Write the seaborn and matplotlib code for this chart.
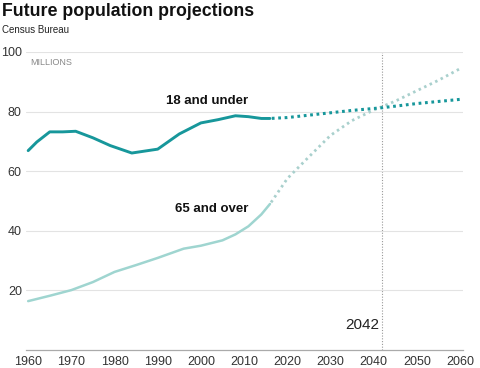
import matplotlib
matplotlib.use("Agg")
import matplotlib.pyplot as plt
import seaborn as sns
import pandas as pd

# ---- data ----
young_years = [1960, 1962, 1965, 1968, 1971, 1975, 1979, 1984, 1990, 1995, 2000, 2004, 2008, 2011, 2014, 2016]
young_vals = [66.9, 69.8, 73.2, 73.2, 73.4, 71.2, 68.6, 66.1, 67.4, 72.5, 76.2, 77.3, 78.6, 78.3, 77.7, 77.7]
young_proj_years = [2016, 2020, 2025, 2030, 2035, 2042, 2050, 2060]
young_proj_vals = [77.7, 78.0, 78.8, 79.6, 80.4, 81.3, 82.7, 84.1]

old_years = [1960, 1965, 1970, 1975, 1980, 1985, 1990, 1996, 2000, 2005, 2008, 2011, 2014, 2016]
old_vals = [16.4, 18.2, 20.1, 22.8, 26.2, 28.5, 30.9, 34.0, 35.0, 36.8, 38.8, 41.5, 45.5, 49.0]
old_proj_years = [2016, 2020, 2025, 2030, 2035, 2040, 2045, 2050, 2055, 2060]
old_proj_vals = [49.0, 57.5, 64.8, 72.0, 77.0, 80.5, 83.5, 87.0, 90.5, 94.4]

x_ticks = [1960, 1970, 1980, 1990, 2000, 2010, 2020, 2030, 2040, 2050, 2060]
y_ticks = [20, 40, 60, 80, 100]
marker_year = 2042

DARK = "#17979b"
LIGHT = "#9fd5d0"
LIGHT_DOT = "#a9d0cd"

sns.set_theme(style="white")
plt.rcParams["font.family"] = ["Liberation Sans", "DejaVu Sans"]

fig = plt.figure(figsize=(4.8, 3.68), dpi=100)
ax = fig.add_axes([26 / 480, 1 - 350 / 368, (463 - 26) / 480, (350 - 52) / 368])

def frame(years, vals):
    return pd.DataFrame({"year": years, "value": vals})

sns.lineplot(data=frame(old_years, old_vals), x="year", y="value", ax=ax,
             color=LIGHT, lw=1.8, solid_capstyle="round", solid_joinstyle="round")
sns.lineplot(data=frame(old_proj_years, old_proj_vals), x="year", y="value", ax=ax,
             color=LIGHT_DOT, lw=2.0, linestyle=(1.5, (0.9, 1.3)))
sns.lineplot(data=frame(young_years, young_vals), x="year", y="value", ax=ax,
             color=DARK, lw=2.1, solid_capstyle="round", solid_joinstyle="round")
sns.lineplot(data=frame(young_proj_years, young_proj_vals), x="year", y="value", ax=ax,
             color=DARK, lw=2.2, linestyle=(1.5, (0.9, 1.2)))

ax.axvline(marker_year, color="#999999", lw=0.8, linestyle=(0, (1, 1.5)), zorder=0)

ax.set_xlim(1959.5, 2060.7)
ax.set_ylim(0, 100)
ax.set_xticks(x_ticks)
ax.set_yticks(y_ticks)
ax.set_xticklabels([str(t) for t in x_ticks])
ax.set_yticklabels([str(t) for t in y_ticks])
ax.set_xlabel("")
ax.set_ylabel("")
ax.grid(axis="y", color="#e3e3e3", lw=0.8)
ax.grid(axis="x", visible=False)
for s in ["top", "right", "left"]:
    ax.spines[s].set_visible(False)
ax.spines["bottom"].set_color("#aaaaaa")
ax.spines["bottom"].set_linewidth(0.9)
ax.tick_params(axis="both", length=0, labelsize=9, colors="#333333")
ax.tick_params(axis="y", pad=3)
ax.tick_params(axis="x", pad=4)

ax.text(1960.5, 96.5, "MILLIONS", fontsize=6.5, color="#888888", va="center", ha="left")
ax.text(2041.3, 8.5, str(marker_year), fontsize=11, color="#222222", ha="right", va="center")
ax.text(2011.0, 83.5, "18 and under", fontsize=9.5, fontweight="bold", color="#111111",
        ha="right", va="center")
ax.text(2011.0, 47.3, "65 and over", fontsize=9.5, fontweight="bold", color="#111111",
        ha="right", va="center")

fig.text(2 / 480, 1 - 11 / 368, "Future population projections", fontsize=12.8,
         fontweight="bold", color="#111111", ha="left", va="center")
fig.text(2 / 480, 1 - 30 / 368, "Census Bureau", fontsize=7, color="#222222",
         ha="left", va="center")

fig.savefig("out.png", dpi=100, facecolor="white")
